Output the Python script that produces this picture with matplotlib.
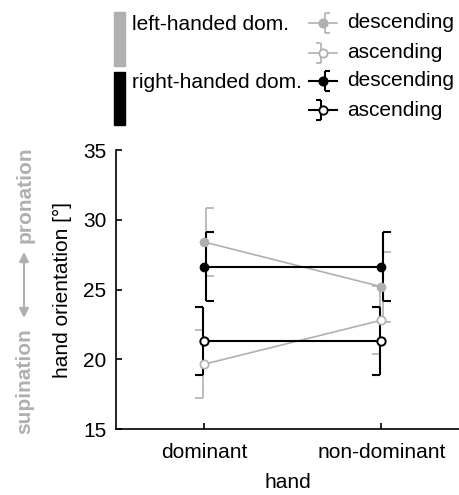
import matplotlib
matplotlib.use('Agg')
import matplotlib.pyplot as plt
from matplotlib.patches import Rectangle

plt.rcParams['font.family'] = ['Liberation Sans', 'DejaVu Sans']
plt.rcParams['font.size'] = 15

# data (mean +/- error), hand orientation in degrees
hands = ['dominant', 'non-dominant']
left_desc = [28.4, 25.2]
left_desc_err = [2.42, 2.5]
left_asc = [19.65, 22.8]
left_asc_err = [2.45, 2.45]
right_desc = [26.65, 26.65]
right_desc_err = [2.45, 2.45]
right_asc = [21.3, 21.3]
right_asc_err = [2.45, 2.45]

gray = '#b0b0b0'
black = '#000000'

fig = plt.figure(figsize=(4.6, 4.95), dpi=100)
ax = fig.add_axes([0.252, 0.1333, 0.748, 0.5636])

x = [1, 2]


def half_errorbar(ax, xs, ys, errs, color, lw, side):
    # vertical bar shifted a bit, caps only on one side
    dx = 0.01 * side
    cap = 0.045 * side
    for xi, yi, ei in zip(xs, ys, errs):
        xv = xi + dx
        ax.plot([xv, xv], [yi - ei, yi + ei], color=color, lw=lw, solid_capstyle='butt', zorder=2)
        ax.plot([xv, xv + cap], [yi + ei, yi + ei], color=color, lw=lw, solid_capstyle='butt', zorder=2)
        ax.plot([xv, xv + cap], [yi - ei, yi - ei], color=color, lw=lw, solid_capstyle='butt', zorder=2)


# left-handed dominant (gray)
half_errorbar(ax, x, left_desc, left_desc_err, gray, 1.2, 1)
half_errorbar(ax, x, left_asc, left_asc_err, gray, 1.2, -1)
ax.plot(x, left_desc, color=gray, lw=1.2, marker='o', ms=6, mfc=gray, mec=gray, zorder=3)
ax.plot(x, left_asc, color=gray, lw=1.2, marker='o', ms=6, mfc='white', mec=gray, mew=1.2, zorder=3)

# right-handed dominant (black)
half_errorbar(ax, x, right_desc, right_desc_err, black, 1.5, 1)
half_errorbar(ax, x, right_asc, right_asc_err, black, 1.5, -1)
ax.plot(x, right_desc, color=black, lw=1.5, marker='o', ms=6, mfc=black, mec=black, zorder=4)
ax.plot(x, right_asc, color=black, lw=1.5, marker='o', ms=6, mfc='white', mec=black, mew=1.4, zorder=4)

ax.set_xlim(0.5, 2.444)
ax.set_ylim(15, 35)
ax.set_yticks([15, 20, 25, 30, 35])
ax.set_xticks(x)
ax.set_xticklabels(hands)
ax.spines['top'].set_visible(False)
ax.spines['right'].set_visible(False)
ax.spines['left'].set_linewidth(1.2)
ax.spines['bottom'].set_linewidth(1.2)
ax.tick_params(axis='both', direction='in', length=4, width=1.2, labelsize=15)
ax.tick_params(axis='y', pad=7)
ax.tick_params(axis='x', pad=10)
ax.set_xlabel('hand', fontsize=15, labelpad=8)
ax.set_ylabel('hand orientation [°]', fontsize=15, labelpad=8)

# overlay in pixel coordinates for legend and side annotation
lax = fig.add_axes([0, 0, 1, 1])
lax.set_xlim(0, 460)
lax.set_ylim(495, 0)
lax.axis('off')

lax.add_patch(Rectangle((114, 12), 11, 54, color=gray))
lax.add_patch(Rectangle((114, 72), 11, 53, color=black))
lax.text(132, 24, 'left-handed dom.', va='center', ha='left', fontsize=15)
lax.text(132, 83, 'right-handed dom.', va='center', ha='left', fontsize=15)

rows = [23, 53, 81, 110]
labels = ['descending', 'ascending', 'descending', 'ascending']
colors = [gray, gray, black, black]
filled = [True, False, True, False]
for ry, lab, c, f in zip(rows, labels, colors, filled):
    lw = 1.2 if c == gray else 1.5
    side = 1 if f else -1
    xv = 323 + 2 * side
    lax.plot([309, 337], [ry, ry], color=c, lw=lw)
    lax.plot([xv, xv], [ry - 10, ry + 10], color=c, lw=lw, solid_capstyle='butt')
    lax.plot([xv, xv + 5 * side], [ry - 10, ry - 10], color=c, lw=lw, solid_capstyle='butt')
    lax.plot([xv, xv + 5 * side], [ry + 10, ry + 10], color=c, lw=lw, solid_capstyle='butt')
    lax.plot([323], [ry], marker='o', ms=6, mfc=c if f else 'white', mec=c, mew=1.3)
    lax.text(347, ry, lab, va='center', ha='left', fontsize=15)

# supination <-> pronation
lax.text(25, 195, 'pronation', rotation=90, va='center', ha='center', fontsize=15,
         fontweight='bold', color=gray)
lax.text(25, 381, 'supination', rotation=90, va='center', ha='center', fontsize=15,
         fontweight='bold', color=gray)
lax.annotate('', xy=(24, 252), xytext=(24, 318),
             arrowprops=dict(arrowstyle='<|-|>', color=gray, lw=1.5, mutation_scale=14,
                             shrinkA=0, shrinkB=0))

fig.savefig('out.png', dpi=100)
